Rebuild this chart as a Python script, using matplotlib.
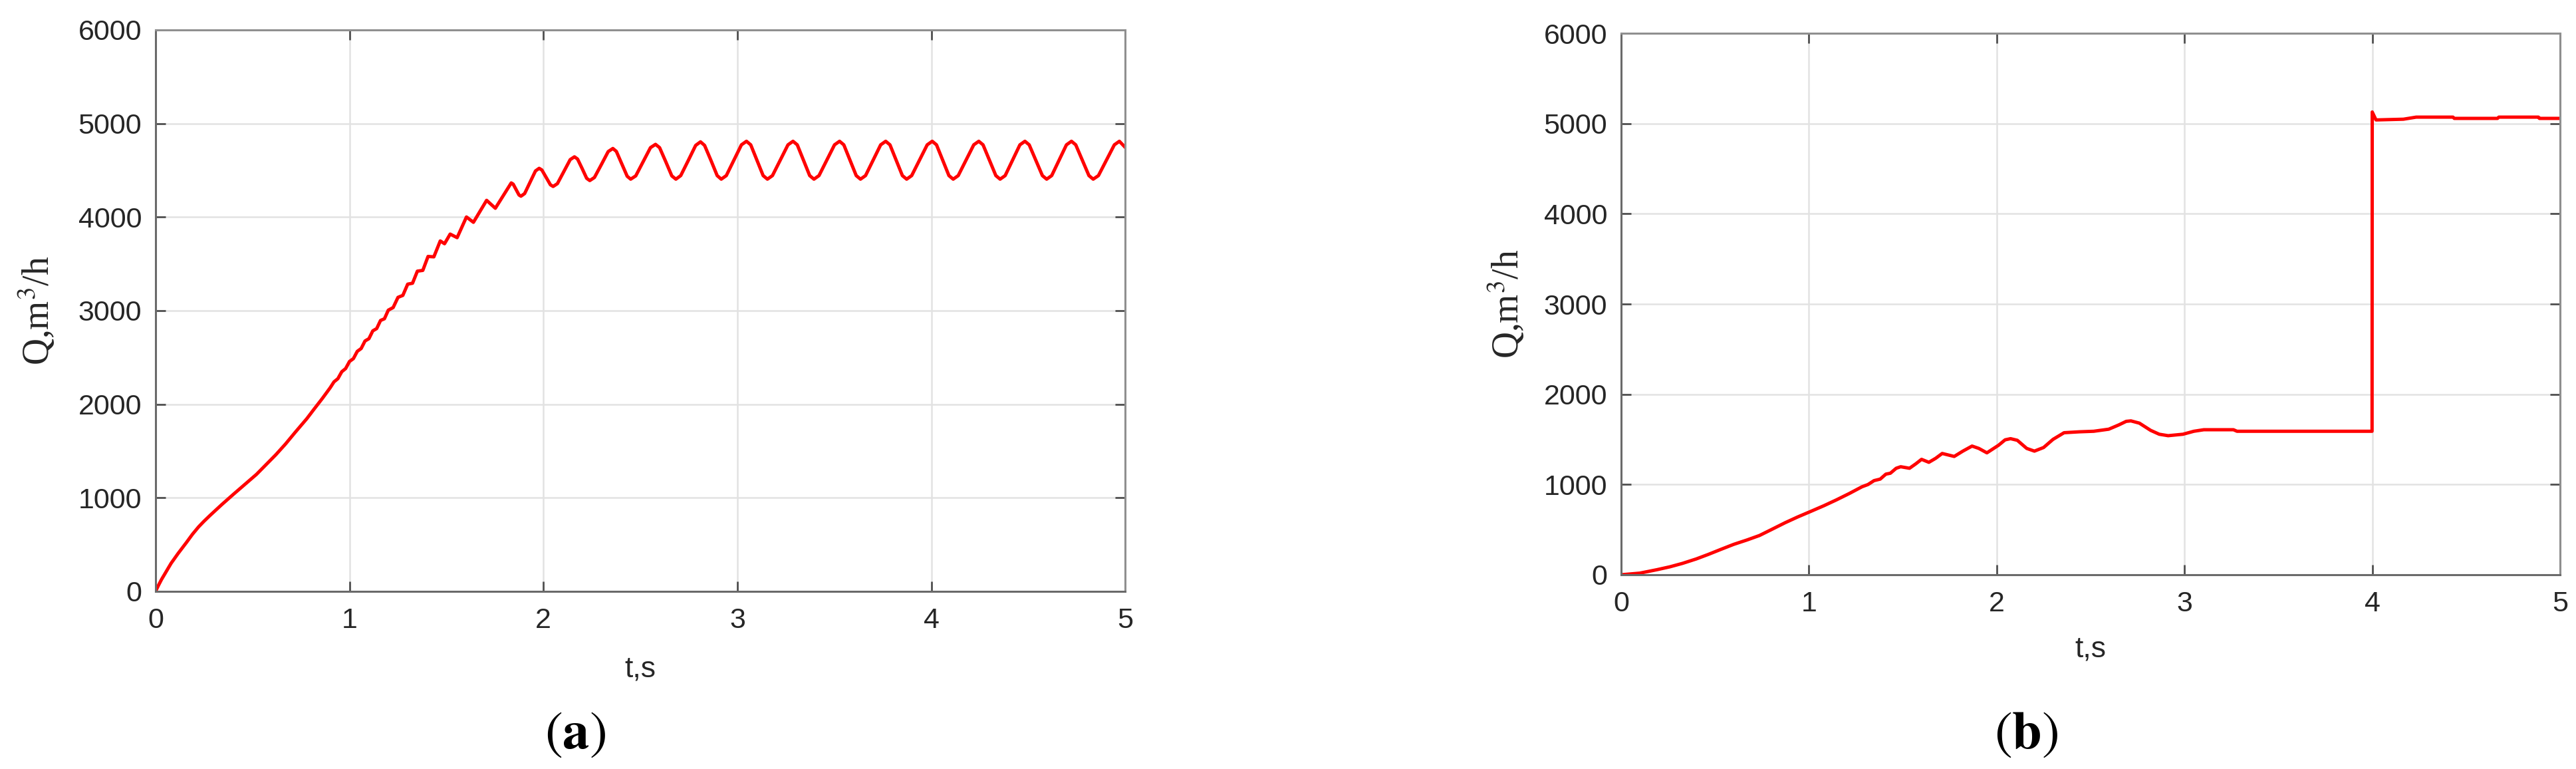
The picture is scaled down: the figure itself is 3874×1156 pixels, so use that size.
import matplotlib
matplotlib.use("Agg")
import matplotlib.pyplot as plt

plt.rcParams['font.family'] = ['Liberation Sans', 'DejaVu Sans']
plt.rcParams['mathtext.fontset'] = 'stix'

# --- panel (a): flow rate ---
t_a = [0.000, 0.015, 0.030, 0.050, 0.080, 0.116, 0.160, 0.190, 0.222, 0.250,
       0.280, 0.340, 0.400, 0.460, 0.520, 0.565, 0.620, 0.670, 0.720, 0.780,
       0.820, 0.860, 0.900, 0.920, 0.940, 0.960, 0.980, 1.000, 1.020, 1.040,
       1.060, 1.080, 1.100, 1.120, 1.140, 1.160, 1.180, 1.200, 1.225, 1.250,
       1.275, 1.300, 1.325, 1.350, 1.378, 1.405, 1.435, 1.468, 1.490,
       1.519, 1.555, 1.603, 1.639, 1.707, 1.752,
       1.834, 1.844, 1.859, 1.874, 1.884, 1.903, 1.931, 1.959,
       1.978, 1.992, 2.014, 2.036, 2.050, 2.072, 2.105, 2.138,
       2.160, 2.176, 2.200, 2.223, 2.239, 2.263, 2.299, 2.334,
       2.358, 2.376, 2.404, 2.432, 2.450, 2.476, 2.514, 2.552,
       2.578, 2.599, 2.631, 2.662, 2.683, 2.708, 2.747, 2.785,
       2.810, 2.831, 2.864, 2.896, 2.917, 2.943, 2.982, 3.021,
       3.047, 3.069, 3.101, 3.133, 3.155, 3.181, 3.221, 3.261,
       3.287, 3.309, 3.341, 3.373, 3.395, 3.421, 3.461, 3.501,
       3.527, 3.549, 3.581, 3.613, 3.635, 3.661, 3.700, 3.739,
       3.765, 3.787, 3.819, 3.851, 3.873, 3.899, 3.939, 3.979,
       4.005, 4.027, 4.059, 4.091, 4.113, 4.139, 4.179, 4.219,
       4.245, 4.267, 4.300, 4.333, 4.355, 4.381, 4.419, 4.457,
       4.483, 4.505, 4.539, 4.573, 4.595, 4.621, 4.659, 4.697,
       4.723, 4.745, 4.779, 4.813, 4.835, 4.862, 4.903, 4.944,
       4.970, 5.000]
q_a = [0, 65, 125, 195, 300, 405, 525, 610, 690, 750,
       810, 925, 1035, 1142, 1250, 1345, 1460, 1575, 1700, 1846,
       1955, 2062, 2175, 2239, 2273, 2347, 2381, 2457, 2487, 2565,
       2595, 2676, 2700, 2784, 2808, 2895, 2913, 3005, 3033, 3142,
       3163, 3283, 3293, 3422, 3430, 3579, 3575, 3745, 3715,
       3818, 3780, 4001, 3944, 4179, 4094,
       4365, 4352, 4294, 4236, 4223, 4251, 4372, 4493,
       4521, 4503, 4424, 4345, 4327, 4357, 4486, 4614,
       4644, 4620, 4517, 4414, 4390, 4423, 4562, 4700,
       4733, 4702, 4569, 4436, 4405, 4440, 4591, 4742,
       4777, 4742, 4591, 4440, 4405, 4443, 4605, 4766,
       4804, 4766, 4605, 4443, 4405, 4443, 4608, 4772,
       4810, 4772, 4608, 4443, 4405, 4443, 4608, 4772,
       4810, 4772, 4608, 4443, 4405, 4443, 4608, 4772,
       4810, 4772, 4608, 4443, 4405, 4443, 4608, 4772,
       4810, 4772, 4608, 4443, 4405, 4443, 4608, 4772,
       4810, 4772, 4608, 4443, 4405, 4443, 4608, 4772,
       4810, 4772, 4608, 4443, 4405, 4443, 4608, 4772,
       4810, 4772, 4608, 4443, 4405, 4443, 4608, 4772,
       4810, 4772, 4608, 4443, 4405, 4443, 4608, 4772,
       4810, 4745]

# --- panel (b) ---
t_b = [0.000, 0.100, 0.191, 0.260, 0.327, 0.400, 0.464, 0.530, 0.600, 0.670,
       0.737, 0.800, 0.873, 0.940, 1.010, 1.080, 1.146, 1.215, 1.283, 1.315,
       1.347, 1.380, 1.410, 1.434, 1.465, 1.489, 1.536, 1.570, 1.600, 1.639,
       1.675, 1.710, 1.774, 1.820, 1.869, 1.905, 1.948, 2.010, 2.045, 2.074,
       2.110, 2.160, 2.201, 2.250, 2.300, 2.359, 2.440, 2.517, 2.597, 2.650,
       2.690, 2.715, 2.760, 2.820, 2.866, 2.913, 2.992, 3.050, 3.103, 3.261,
       3.280, 3.999, 4.000, 4.020, 4.166, 4.234, 4.430, 4.437, 4.667, 4.674,
       4.885, 4.890, 5.000]
q_b = [0, 18, 56, 88, 126, 175, 225, 280, 337, 385,
       435, 500, 576, 640, 702, 765, 829, 900, 975, 1000,
       1043, 1060, 1115, 1125, 1180, 1197, 1180, 1230, 1279, 1246,
       1290, 1344, 1311, 1370, 1426, 1400, 1351, 1435, 1495, 1508,
       1490, 1400, 1370, 1410, 1500, 1574, 1584, 1590, 1613, 1660,
       1700, 1705, 1680, 1600, 1557, 1541, 1557, 1590, 1607, 1607,
       1590, 1590, 5128, 5040, 5048, 5071, 5071, 5057, 5057, 5071,
       5071, 5057, 5057]

x_ticks = [0, 1, 2, 3, 4, 5]
y_ticks = [0, 1000, 2000, 3000, 4000, 5000, 6000]

fig = plt.figure(figsize=(38.74, 11.56), dpi=100)
ax_a = fig.add_axes([0.0604, 0.2310, 0.3764, 0.7301])
ax_b = fig.add_axes([0.6293, 0.2526, 0.3645, 0.7041])


def style_axes(ax, xlab_y):
    ax.set_xlim(0, 5)
    ax.set_ylim(0, 6000)
    ax.set_xticks(x_ticks)
    ax.set_yticks(y_ticks)
    ax.grid(True, color='#e2e2e2', linewidth=1.8)
    ax.set_axisbelow(True)
    for side in ['left', 'bottom']:
        ax.spines[side].set_color('#6a6a6a')
        ax.spines[side].set_linewidth(2.2)
    for side in ['top', 'right']:
        ax.spines[side].set_color('#8f8f8f')
        ax.spines[side].set_linewidth(2.2)
    ax.tick_params(direction='in', length=11, width=2, color='#505050',
                   top=True, right=True, labelsize=31, labelcolor='#262626')
    ax.tick_params(axis='y', pad=15)
    ax.tick_params(axis='x', pad=17)
    ax.set_xlabel('t,s', fontsize=32, color='#262626')
    ax.xaxis.label.set_va('center')
    ax.xaxis.set_label_coords(0.5, xlab_y)
    # serif label, superscript through mathtext (stix = Times-like)
    ax.set_ylabel(r'Q,m$^{3}$/h', fontsize=40, color='#262626',
                  family=['Liberation Serif', 'DejaVu Serif'])
    ax.yaxis.label.set_va('center')
    ax.yaxis.set_label_coords(-0.122, 0.5)


ax_a.plot(t_a, q_a, color='#ff0000', linewidth=3.6, solid_joinstyle='round')
ax_b.plot(t_b, q_b, color='#ff0000', linewidth=3.6, solid_joinstyle='round')
style_axes(ax_a, -0.139)
style_axes(ax_b, -0.138)

fig.text(0.2233, 0.045, r'$(\mathbf{a})$', fontsize=58, ha='center', va='center')
fig.text(0.7865, 0.045, r'$(\mathbf{b})$', fontsize=58, ha='center', va='center')

fig.savefig('out.png', dpi=100, facecolor='white')
